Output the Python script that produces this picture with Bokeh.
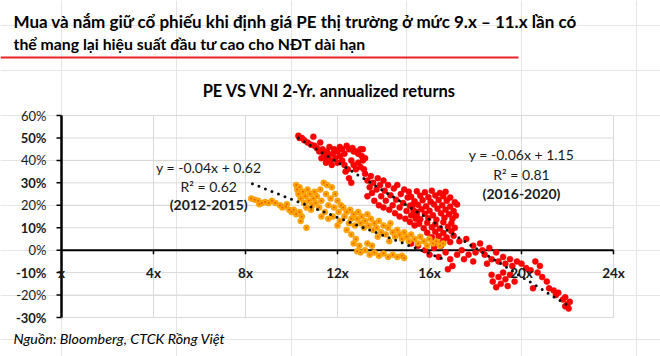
from bokeh.plotting import figure
from bokeh.models import Range1d, Label, LabelSet, ColumnDataSource, BoxAnnotation
from bokeh.core.properties import value
from bokeh.embed import file_html
from bokeh.resources import INLINE

# ---------------- data ----------------
title_line1 = "Mua và nắm giữ cổ phiếu khi định giá PE thị trường ở mức 9.x – 11.x lần có"
title_line2 = "thể mang lại hiệu suất đầu tư cao cho NĐT dài hạn"
chart_title = "PE VS VNI 2-Yr.  annualized returns"
source_text = "Nguồn: Bloomberg, CTCK Rồng Việt"

x_ticks = [0, 4, 8, 12, 16, 20, 24]
x_tick_labels = ["x", "4x", "8x", "12x", "16x", "20x", "24x"]
y_ticks = [-0.3, -0.2, -0.1, 0.0, 0.1, 0.2, 0.3, 0.4, 0.5, 0.6]
y_tick_labels = ["-30%", "-20%", "-10%", "0%", "10%", "20%", "30%", "40%", "50%", "60%"]

# 2016-2020 (red)
red_pe = [
    10.3, 10.35, 10.45, 10.55, 10.7, 10.95, 10.85, 11.0, 11.1, 11.25, 11.2, 11.35,
    11.4, 11.5, 11.55, 11.6, 11.7, 11.75, 11.8, 11.85, 11.9, 11.5, 11.65, 11.3,
    12.0, 12.1, 12.2, 12.3, 12.4, 12.5, 12.65, 12.7, 12.8, 12.9, 13.0, 13.05, 12.2, 12.3,
    12.35, 12.5, 12.6, 12.45, 12.6, 12.7, 12.8, 12.9, 13.0, 13.1, 13.15, 12.0, 12.1, 13.2, 13.1,
    13.2, 13.3, 13.3, 13.4, 13.45, 13.5, 13.55, 13.6, 13.7, 13.75, 13.8, 13.85, 13.9, 14.0,
    14.0, 14.05, 14.1, 14.2, 14.25, 14.3, 14.4, 14.45, 14.5, 14.55, 14.6, 14.7, 14.7, 14.75,
    14.85, 14.9, 14.95, 15.0, 15.05, 15.1, 15.15, 15.2, 15.25, 15.35, 15.4, 15.45,
    15.45, 15.8, 16.1, 16.45, 16.7,
    15.2, 15.6, 15.95, 16.25, 16.6, 16.9,
    15.35, 15.7, 16.05, 16.4, 16.75, 17.1,
    15.15, 15.5, 15.85, 16.2, 16.55, 16.9, 17.2,
    15.3, 15.65, 16.0, 16.35, 16.7, 17.05,
    15.45, 15.8, 16.15, 16.5, 16.85, 17.15,
    15.6, 15.95, 16.3, 16.65, 17.0,
    15.55, 15.9, 16.25, 16.6, 16.95,
    15.75, 16.1, 16.45, 16.8, 17.1,
    15.9, 16.25, 16.6, 16.95,
    16.1, 16.4, 16.75, 17.05,
    16.3, 16.6, 16.9,
    15.2, 15.5, 15.8, 16.0, 16.2, 16.4, 16.5, 16.7, 16.8, 17.0, 16.9, 17.2, 17.4, 17.5,
    17.7, 17.9, 18.0, 17.3, 17.6, 17.9, 18.2, 18.3,
    18.4, 18.6, 18.7, 18.9, 19.0, 19.2, 19.3, 19.5, 19.6, 19.8, 20.0, 20.2, 18.5,
    18.7, 18.75, 19.0, 19.1, 19.3, 19.4, 19.5, 19.7, 18.9, 19.2,
    20.4, 20.5, 20.7, 20.9, 21.1, 21.2, 21.4, 21.5, 21.6, 21.8, 21.9, 22.0, 21.9, 22.1,
    22.05, 20.6, 20.8,
]
red_ret = [
    0.51, 0.50, 0.50, 0.49, 0.48, 0.505, 0.47, 0.465, 0.455, 0.48, 0.44, 0.45,
    0.43, 0.41, 0.44, 0.42, 0.40, 0.38, 0.43, 0.45, 0.41, 0.39, 0.46, 0.41,
    0.44, 0.46, 0.45, 0.43, 0.465, 0.45, 0.455, 0.44, 0.44, 0.43, 0.45, 0.42, 0.40, 0.38,
    0.35, 0.32, 0.30, 0.36, 0.40, 0.38, 0.36, 0.39, 0.37, 0.40, 0.36, 0.39, 0.42, 0.41, 0.45,
    0.34, 0.31, 0.24, 0.28, 0.33, 0.255, 0.30, 0.22, 0.27, 0.32, 0.20, 0.29, 0.24, 0.31,
    0.19, 0.265, 0.22, 0.29, 0.18, 0.245, 0.20, 0.275, 0.165, 0.225, 0.29, 0.15, 0.19, 0.25,
    0.21, 0.27, 0.14, 0.175, 0.235, 0.26, 0.125, 0.155, 0.20, 0.11, 0.14, 0.17,
    0.262, 0.258, 0.265, 0.255, 0.26,
    0.238, 0.242, 0.236, 0.244, 0.24, 0.235,
    0.218, 0.222, 0.216, 0.224, 0.22, 0.214,
    0.198, 0.202, 0.196, 0.204, 0.20, 0.194, 0.203,
    0.178, 0.182, 0.176, 0.184, 0.18, 0.174,
    0.158, 0.162, 0.156, 0.164, 0.16, 0.154,
    0.138, 0.142, 0.136, 0.144, 0.14,
    0.118, 0.122, 0.116, 0.124, 0.12,
    0.098, 0.102, 0.096, 0.104, 0.10,
    0.078, 0.082, 0.076, 0.084,
    0.058, 0.062, 0.056, 0.064,
    0.038, 0.042, 0.036,
    0.03, 0.02, 0.0, -0.02, 0.01, -0.03, 0.02, -0.01, -0.085, -0.07, -0.04, -0.02, 0.0, -0.04,
    -0.02, -0.05, -0.01, 0.04, 0.05, 0.02, 0.03, 0.0,
    -0.02, 0.01, -0.04, -0.01, -0.05, -0.03, -0.06, -0.04, -0.07, -0.05, -0.06, -0.08, -0.06,
    -0.11, -0.14, -0.12, -0.15, -0.13, -0.16, -0.11, -0.14, -0.165, -0.10,
    -0.09, -0.17, -0.10, -0.12, -0.14, -0.17, -0.18, -0.20, -0.19, -0.22, -0.21, -0.24, -0.25, -0.23,
    -0.26, -0.05, -0.07,
]

# 2012-2015 (orange)
orange_pe = [
    8.25, 8.4, 8.55, 8.7, 8.85, 9.0, 9.15, 9.3, 8.6,
    9.5, 9.6, 9.75, 9.9, 10.0, 10.1, 10.2, 10.35, 10.45, 9.8,
    10.4, 10.65,
    10.2, 10.25, 10.3, 10.35, 10.4, 10.5, 10.55, 10.6, 10.7, 10.75, 10.8, 10.9, 10.95, 11.0, 10.65, 10.85,
    11.05, 11.1, 11.2, 11.25, 11.3, 11.4, 11.45, 11.5, 11.55, 11.6, 11.7, 11.75, 11.8, 11.85, 11.9,
    12.0, 12.05, 12.1, 12.15, 11.3, 11.6, 12.0,
    12.25, 12.3, 12.4, 12.5, 12.55, 12.6, 12.7, 12.75, 12.85, 12.9, 13.0, 13.05, 13.15, 13.2, 13.3,
    13.35, 13.45, 12.4, 12.6, 12.7, 12.8, 12.95,
    13.55, 13.6, 13.7, 13.8, 13.9, 14.0, 14.1, 14.2, 14.3, 14.4, 14.5, 14.6, 14.7, 14.8, 14.9, 15.0,
    13.75, 14.25,
    15.1, 15.2, 15.35, 15.5, 15.6, 15.75, 15.9, 16.0, 16.15, 16.3, 16.45, 16.6,
    13.0, 13.2, 13.4, 13.6, 13.8, 14.0, 14.2, 14.4, 14.6, 14.8, 14.9, 13.3, 13.5, 12.85,
]
orange_ret = [
    0.23, 0.225, 0.22, 0.21, 0.215, 0.21, 0.22, 0.21, 0.205,
    0.20, 0.19, 0.195, 0.18, 0.17, 0.18, 0.16, 0.17, 0.15, 0.205,
    0.13, 0.10,
    0.29, 0.27, 0.25, 0.28, 0.23, 0.26, 0.21, 0.24, 0.27, 0.22, 0.25, 0.20, 0.23, 0.26, 0.19, 0.18,
    0.21, 0.24, 0.19, 0.27, 0.22, 0.30, 0.17, 0.25, 0.29, 0.20, 0.23, 0.28, 0.15, 0.19, 0.25,
    0.22, 0.17, 0.13, 0.20, 0.15, 0.14, 0.11,
    0.19, 0.15, 0.17, 0.12, 0.18, 0.14, 0.16, 0.11, 0.14, 0.17, 0.12, 0.15, 0.10, 0.13, 0.16,
    0.11, 0.14, 0.09, 0.07, 0.03, 0.05, 0.02,
    0.09, 0.12, 0.10, 0.13, 0.08, 0.11, 0.07, 0.10, 0.12, 0.08, 0.06, 0.09, 0.07, 0.05, 0.08, 0.06,
    0.06, 0.04,
    0.04, 0.07, 0.05, 0.03, 0.06, 0.04, 0.02, 0.05, 0.03, 0.04, 0.02, 0.03,
    -0.01, 0.0, -0.02, -0.01, -0.025, -0.015, -0.03, -0.02, -0.03, -0.025, -0.035, 0.03, 0.02, -0.005,
]

# trendlines: slope, intercept, x-range
orange_fit = (-0.0404, 0.631)
orange_fit_x = [8.3, 16.6]
red_fit = (-0.0637, 1.156)
red_fit_x = [10.3, 22.0]

# ---------------- layout (pixels) ----------------
W, H = 660, 356
PLOT_LEFT, PLOT_TOP, PLOT_W, PLOT_H = 61, 115, 552, 202
X_MIN, X_MAX = x_ticks[0], x_ticks[-1]
Y_MIN, Y_MAX = y_ticks[0], y_ticks[-1]
PX_X = PLOT_W / (X_MAX - X_MIN)
PX_Y = PLOT_H / (Y_MAX - Y_MIN)
Y0_PX = PLOT_TOP + Y_MAX * PX_Y

FONT = "Lato"
TXT = "#1a1a1a"
GRID = "#D9D9D9"

p = figure(width=W, height=H, output_backend="svg", toolbar_location=None,
           x_range=Range1d(X_MIN - PLOT_LEFT / PX_X, X_MIN + (W - PLOT_LEFT) / PX_X),
           y_range=Range1d((Y0_PX - H) / PX_Y, Y0_PX / PX_Y),
           x_axis_location=None, y_axis_location=None, title=None, min_border=0)
p.outline_line_color = None
p.background_fill_color = "white"
p.border_fill_color = "white"

# grid + outline
vsrc = ColumnDataSource(dict(x=x_ticks, label=x_tick_labels))
hsrc = ColumnDataSource(dict(y=y_ticks, label=y_tick_labels))
p.segment(x0="x", y0=Y_MIN, x1="x", y1=Y_MAX, source=vsrc, line_color=GRID, line_width=1)
p.segment(x0=X_MIN, y0="y", x1=X_MAX, y1="y", source=hsrc, line_color=GRID, line_width=1)

# y axis
p.segment(x0=X_MIN, y0=Y_MIN, x1=X_MIN, y1=Y_MAX, line_color="black", line_width=2.5)
p.ray(x=X_MIN, y="y", length=5, length_units="screen", angle=180, angle_units="deg",
      source=hsrc, line_color="black", line_width=1.5)
bold_rows = [i for i, v in enumerate(y_ticks) if round(v * 100) % 20 != 0]
norm_rows = [i for i, v in enumerate(y_ticks) if round(v * 100) % 20 == 0]
for rows, style in ((norm_rows, "normal"), (bold_rows, "bold")):
    s = ColumnDataSource(dict(y=[y_ticks[i] for i in rows], label=[y_tick_labels[i] for i in rows]))
    p.add_layout(LabelSet(x=X_MIN, y="y", text="label", source=s, x_offset=-15,
                          text_align="right", text_baseline="middle",
                          text_font=value(FONT), text_font_style=style,
                          text_font_size="13px", text_color=TXT))

# x axis at y = 0
p.segment(x0=X_MIN, y0=0, x1=X_MAX, y1=0, line_color="black", line_width=2)
tsrc = ColumnDataSource(dict(x=x_ticks[1:]))
p.ray(x="x", y=0, length=4, length_units="screen", angle=-90, angle_units="deg",
      source=tsrc, line_color="black", line_width=1.5)
p.add_layout(LabelSet(x="x", y=-0.1, text="label", source=vsrc,
                      text_align="center", text_baseline="middle",
                      text_font=value(FONT), text_font_style="bold",
                      text_font_size="13.5px", text_color=TXT))

# scatter
p.scatter(red_pe, red_ret, size=6, fill_color="#FF0000", line_color="#E60000", line_width=0.5)
p.scatter(orange_pe, orange_ret, size=6, fill_color="#FFA800", line_color="#F29400", line_width=0.5)
p.scatter(orange_pe, orange_ret, size=2, fill_color="#F0600A", line_color=None)

# trendlines
for (m, b), xs in ((orange_fit, orange_fit_x), (red_fit, red_fit_x)):
    p.line(xs, [m * x + b for x in xs], line_color="#111111", line_width=3,
           line_dash="0 7", line_cap="round")

# equations
def add_eq(x, ys, texts):
    for i, (yy, t) in enumerate(zip(ys, texts)):
        p.add_layout(Label(x=x, y=yy, text=t, text_align="center", text_baseline="middle",
                           text_font=FONT, text_font_size="14px", text_color=TXT,
                           text_font_style="bold" if i == 2 else "normal"))

add_eq(6.4, [0.367, 0.283, 0.203], ["y = -0.04x + 0.62", "R² = 0.62", "(2012-2015)"])
add_eq(20.0, [0.425, 0.336, 0.252], ["y = -0.06x + 1.15", "R² = 0.81", "(2016-2020)"])

# headings (canvas pixels)
def canvas_label(x, y, text, size, style="bold", align="left"):
    p.add_layout(Label(x=x, y=y, x_units="canvas", y_units="canvas", text=text,
                       text_font=FONT, text_font_style=style, text_font_size=size,
                       text_color="black", text_align=align, text_baseline="middle"))

canvas_label(13, 21, title_line1, "17px")
canvas_label(13, 43, title_line2, "15.8px")
p.add_layout(BoxAnnotation(left=0, right=518, top=56, bottom=58,
                           left_units="canvas", right_units="canvas",
                           top_units="canvas", bottom_units="canvas",
                           fill_color="#E8232A", fill_alpha=1, line_color=None))
canvas_label(331, 90, chart_title, "16.5px", align="center")
canvas_label(13, 338, source_text, "14.3px", style="italic")

open("out.html", "w").write(file_html(p, INLINE))
